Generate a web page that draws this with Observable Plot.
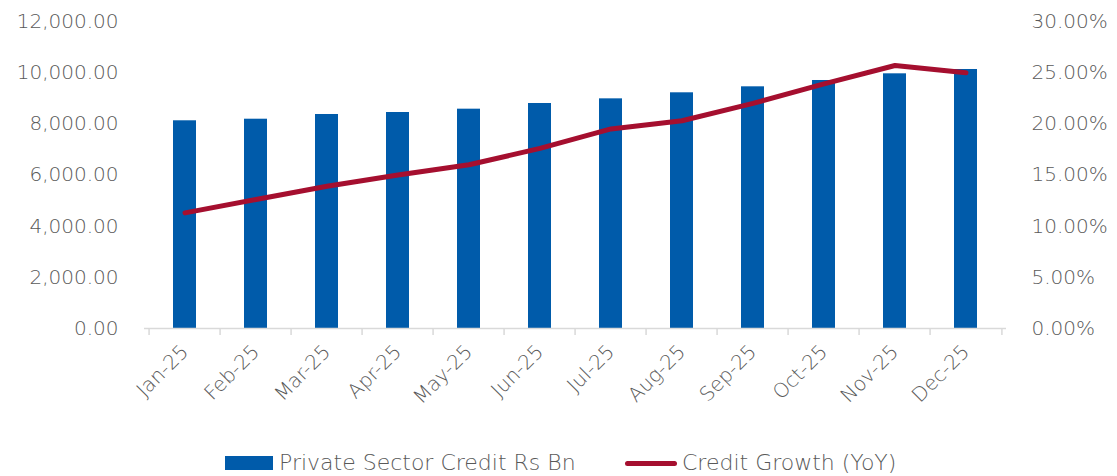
<!DOCTYPE html>
<html>
<head>
<meta charset="utf-8">
<script src="https://cdn.jsdelivr.net/npm/d3@7"></script>
<script src="https://cdn.jsdelivr.net/npm/@observablehq/plot@0.6"></script>
<style>
  html, body { margin: 0; padding: 0; background: #fff; }
  body { width: 1117px; height: 476px; overflow: hidden; font-family: "DejaVu Sans", sans-serif; font-weight: 200; }
  #chart { height: 436px; }
  #legend { box-sizing: border-box; display: flex; align-items: center; height: 40px; padding-top: 14px; color: #595959; font-size: 22px; line-height: 26px; white-space: nowrap; }
  .sw-bar { display: inline-block; width: 48px; height: 14px; background: #005BAA; margin-left: 225px; margin-right: 6px; }
  .sw-line { display: inline-block; width: 52px; height: 5px; border-radius: 3px; background: #A50F2F; margin-right: 5px; }
</style>
</head>
<body>
<div id="chart"></div>
<div id="legend"><span class="sw-bar"></span><span id="l1">Private Sector Credit Rs Bn</span><span class="sw-line" id="sl"></span><span>Credit Growth (YoY)</span></div>
<script>
const months = ["Jan-25","Feb-25","Mar-25","Apr-25","May-25","Jun-25","Jul-25","Aug-25","Sep-25","Oct-25","Nov-25","Dec-25"];
const credit = [8119, 8181, 8365, 8443, 8573, 8795, 8977, 9213, 9447, 9694, 9955, 10124];
const growth = [11.3, 12.6, 13.9, 15.0, 16.0, 17.6, 19.5, 20.3, 22.0, 23.9, 25.7, 25.0];
const leftTicks = [0, 2000, 4000, 6000, 8000, 10000, 12000];
const rightTicks = [0, 5, 10, 15, 20, 25, 30];

const W = 1117, H = 436, ML = 144, MR = 111, MT = 21, MB = 108;
const ratio = 12000 / 30;
const data = months.map((m, i) => ({month: m, credit: credit[i], growth: growth[i]}));
const step = (W - ML - MR) / months.length;
const gray = "#595959";

const chart = Plot.plot({
  width: W, height: H,
  marginLeft: ML, marginRight: MR, marginTop: MT, marginBottom: MB,
  style: {fontFamily: "DejaVu Sans, sans-serif", fontWeight: 200, fontSize: "20px", color: gray, background: "#fff", display: "block"},
  x: {domain: months, paddingInner: 0.67, paddingOuter: 0.335, label: null},
  y: {domain: [0, 12000], label: null},
  marks: [
    Plot.barY(data, {x: "month", y: "credit", fill: "#005BAA"}),
    Plot.ruleY([0], {stroke: "#d9d9d9", strokeWidth: 1.5}),
    Plot.axisX(months, {tickSize: 7, stroke: "#d9d9d9", strokeWidth: 1.5, dx: -step / 2, tickFormat: () => "", label: null}),
    Plot.axisX([months[months.length - 1]], {tickSize: 7, stroke: "#d9d9d9", strokeWidth: 1.5, dx: step / 2, tickFormat: () => "", label: null}),
    Plot.axisX(months, {tickSize: 0, tickPadding: 20, tickRotate: -45, fill: gray, fontSize: 20, label: null}),
    Plot.axisY(leftTicks, {anchor: "left", tickSize: 0, tickPadding: 26, fill: gray, fontSize: 20, label: null,
      tickFormat: d => d3.format(",.2f")(d)}),
    Plot.axisY(rightTicks.map(p => p * ratio), {anchor: "right", tickSize: 0, tickPadding: 25, fill: gray, fontSize: 20, label: null,
      tickFormat: d => (d / ratio).toFixed(2) + "%"}),
    Plot.lineY(data, {x: "month", y: d => d.growth * ratio, stroke: "#A50F2F", strokeWidth: 5, strokeLinejoin: "round", strokeLinecap: "round"})
  ]
});
document.getElementById("chart").appendChild(chart);
// place the second legend entry where it starts in the reference
const l1 = document.getElementById("l1").getBoundingClientRect();
document.getElementById("sl").style.marginLeft = Math.max(10, 625 - l1.right) + "px";
</script>
</body>
</html>
